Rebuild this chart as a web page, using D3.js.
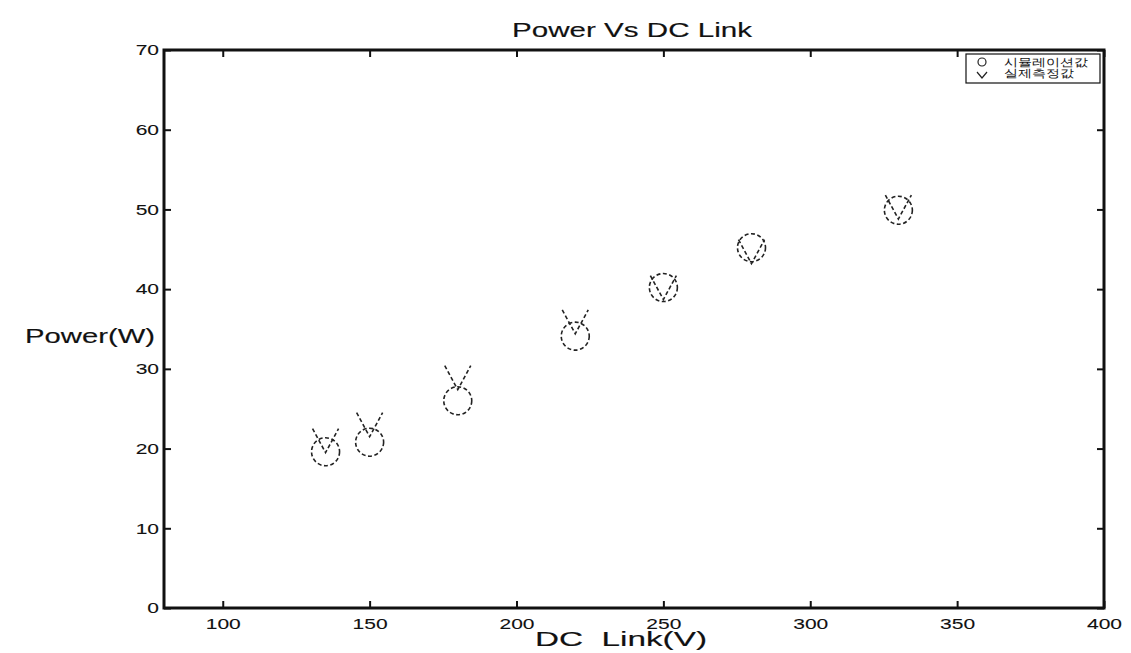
<!DOCTYPE html>
<html>
<head>
<meta charset="utf-8">
<script src="https://cdn.jsdelivr.net/npm/d3@7"></script>
<style>
body { margin: 0; background: #fff; }
text { font-family: "Liberation Sans", Arial, sans-serif; fill: #111; }
</style>
</head>
<body>
<div id="body"></div>
<script>
// DC link voltage (V)
var dcLink = [135, 150, 180, 220, 250, 280, 330];
// simulation (circle) and measured (v) power (W)
var simPower = [19.6, 20.8, 26.0, 34.1, 40.2, 45.2, 49.9];
var measPower = [21.0, 23.0, 28.9, 35.9, 40.2, 44.7, 50.3];
var xTicks = [100, 150, 200, 250, 300, 350, 400];
var yTicks = [0, 10, 20, 30, 40, 50, 60, 70];
var legendLabels = ["시뮬레이션값", "실제측정값"];

var W = 1131, H = 653;
var pL = 164, pR = 1104, pT = 50, pB = 608;

var svg = d3.select("#body").append("svg").attr("width", W).attr("height", H);

var x = d3.scaleLinear().domain([80, 400]).range([pL, pR]);
var y = d3.scaleLinear().domain([0, 70]).range([pB, pT]);

// the scan is stretched sideways, so widen the glyphs
function widen(sel, k) {
  sel.each(function(){
    var w = this.getComputedTextLength();
    d3.select(this).attr("textLength", w * k).attr("lengthAdjust", "spacingAndGlyphs");
  });
}

// ticks on all four sides, pointing inward
svg.append("g").attr("transform", "translate(0," + pB + ")")
  .call(d3.axisBottom(x).tickValues(xTicks).tickSizeInner(-7).tickSizeOuter(0).tickPadding(10))
  .call(function(g){ g.select(".domain").remove(); });
svg.append("g").attr("transform", "translate(0," + pT + ")")
  .call(d3.axisTop(x).tickValues(xTicks).tickSizeInner(-7).tickSizeOuter(0).tickFormat(""))
  .call(function(g){ g.select(".domain").remove(); });
svg.append("g").attr("transform", "translate(" + pL + ",0)")
  .call(d3.axisLeft(y).tickValues(yTicks).tickSizeInner(-7).tickSizeOuter(0).tickPadding(5))
  .call(function(g){ g.select(".domain").remove(); });
svg.append("g").attr("transform", "translate(" + pR + ",0)")
  .call(d3.axisRight(y).tickValues(yTicks).tickSizeInner(-7).tickSizeOuter(0).tickFormat(""))
  .call(function(g){ g.select(".domain").remove(); });

svg.selectAll(".tick line").attr("stroke", "#111").attr("stroke-width", 2);
svg.selectAll(".tick text").attr("font-size", 15).attr("fill", "#111")
  .attr("stroke", "#111").attr("stroke-width", 0.1)
  .attr("font-family", "Liberation Sans, Arial, sans-serif")
  .call(widen, 1.4);

svg.append("rect")
  .attr("x", pL).attr("y", pT)
  .attr("width", pR - pL).attr("height", pB - pT)
  .attr("fill", "none").attr("stroke", "#111").attr("stroke-width", 3);

// markers, dashed to look like the scan
var mk = svg.append("g").attr("fill", "none").attr("stroke", "#222")
  .attr("stroke-width", 1.6).attr("stroke-dasharray", "4,2.5");

mk.selectAll("circle").data(dcLink).enter().append("circle")
  .attr("cx", function(d){ return x(d); })
  .attr("cy", function(d, i){ return y(simPower[i]); })
  .attr("r", 14);

mk.selectAll("path.v").data(dcLink).enter().append("path")
  .attr("class", "v")
  .attr("d", function(d, i){
    var cx = x(d), cy = y(measPower[i]);
    return "M" + (cx - 13) + "," + (cy - 12) + "L" + cx + "," + (cy + 12) + "L" + (cx + 13) + "," + (cy - 12);
  });

// title and labels
var labels = svg.append("g").attr("stroke", "#111").attr("stroke-width", 0.15);
labels.append("text").attr("x", 512).attr("y", 37)
  .attr("font-size", 20).text("Power Vs DC Link")
  .attr("textLength", 240).attr("lengthAdjust", "spacingAndGlyphs");
labels.append("text").attr("x", 25).attr("y", 343).attr("font-size", 20).text("Power(W)")
  .attr("textLength", 130).attr("lengthAdjust", "spacingAndGlyphs");
labels.append("text").attr("x", 535).attr("y", 646)
  .attr("font-size", 20).attr("xml:space", "preserve").text("DC  Link(V)")
  .attr("textLength", 172).attr("lengthAdjust", "spacingAndGlyphs");

// legend
var lg = svg.append("g");
lg.append("rect").attr("x", 966).attr("y", 54).attr("width", 134).attr("height", 29)
  .attr("fill", "#fff").attr("stroke", "#111").attr("stroke-width", 1.2);
lg.append("circle").attr("cx", 982).attr("cy", 62).attr("r", 4)
  .attr("fill", "none").attr("stroke", "#222").attr("stroke-width", 1.2);
lg.append("path").attr("d", "M977,72L982,78L987,72")
  .attr("fill", "none").attr("stroke", "#222").attr("stroke-width", 1.2);
lg.selectAll("text.lg").data(legendLabels).enter().append("text")
  .attr("class", "lg")
  .attr("x", 1004).attr("y", function(d, i){ return 66 + i * 11; })
  .attr("font-size", 10.5)
  .attr("font-family", "Noto Sans CJK KR, sans-serif")
  .attr("textLength", function(d){ return d.length * 14; })
  .attr("lengthAdjust", "spacingAndGlyphs")
  .text(function(d){ return d; });
</script>
</body>
</html>
